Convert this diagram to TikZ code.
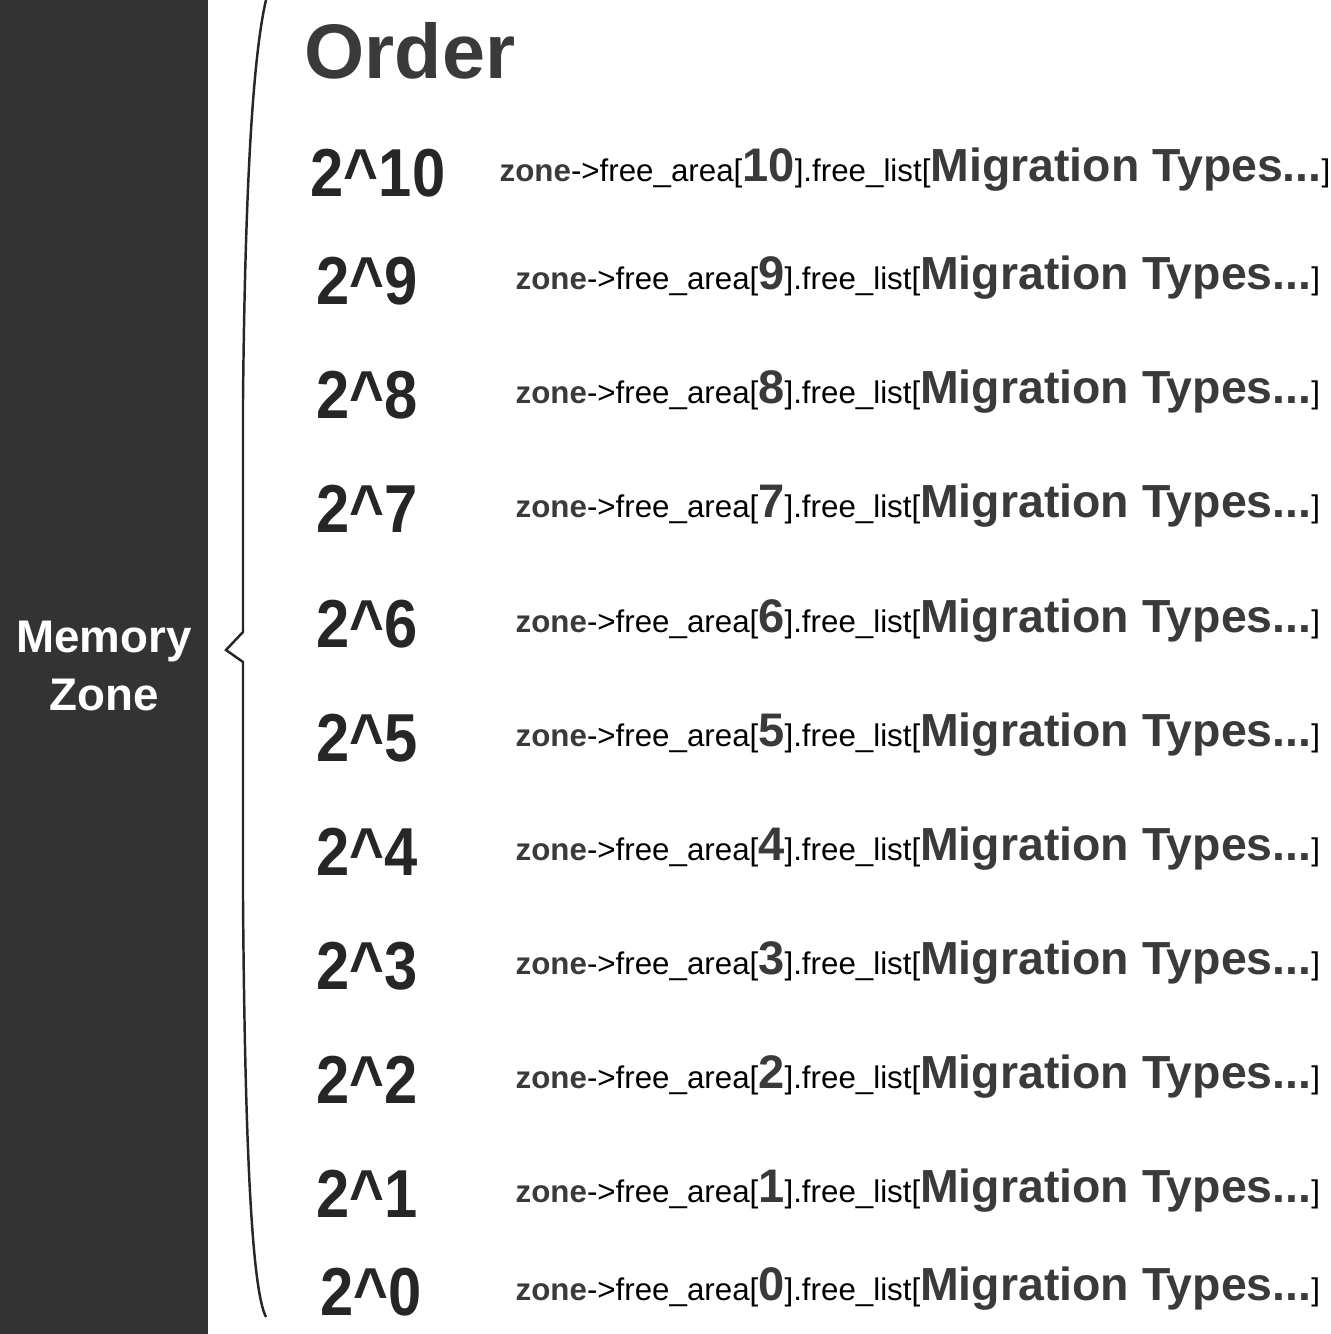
\documentclass[tikz,border=0pt]{standalone}
\usepackage{fontspec}
\setmainfont{Liberation Sans}
\definecolor{zonegray}{HTML}{333333}
\definecolor{textgray}{HTML}{3A3A3A}
\newcommand{\listfont}{\fontsize{8.9}{10}\selectfont}
\newcommand{\freelist}[1]{{\listfont\textbf{\color{textgray}zone}->free\_area[}{\fontsize{13.4}{15}\selectfont\textbf{\color{textgray}#1}}{\listfont].free\_list[}{\fontsize{13.2}{15}\selectfont\textbf{\color{textgray}Migration Types...}}{\listfont]}}

\begin{document}
\begin{tikzpicture}[x=0.01cm,y=-0.01cm,
    orderlabel/.style={anchor=base west,inner sep=0pt,text=black!85,font=\fontsize{19.3}{21}\selectfont\bfseries},
    listlabel/.style={anchor=base west,inner sep=0pt}]
	\useasboundingbox (0,0) rectangle (1331,1334);
	% memory zone
	\fill[zonegray] (0,0) rectangle (208,1334);
	\node[align=center,text=white,font=\fontsize{13}{16.5}\selectfont\bfseries] (zone) at (104,666) {Memory\\Zone};
	% brace
	\draw[line width=0.7pt,color=black!85] (266,0) .. controls (252,60) and (245,200) .. (243,400) -- (243,632) -- (226,650) -- (243,662) -- (243,900) .. controls (245,1150) and (252,1290) .. (266,1317);
	% orders
	\node[anchor=base west,inner sep=0pt,text=textgray,font=\fontsize{22}{24}\selectfont\bfseries] (order) at (304,79) {Order};
	\foreach \n/\yb/\xo/\xt in {10/197/310/499, 9/305/316/515, 8/419/316/515, 7/533/316/515, 6/647/316/515, 5/761/316/515, 4/875/316/515, 3/989/316/515, 2/1103/316/515, 1/1217/316/515, 0/1315/320/515}
	{
		\node[orderlabel] (ord\n) at (\xo,\yb) {\scalebox{0.88}[1]{2\textasciicircum\n}};
		\node[listlabel] (fl\n) at (\xt,\yb-15) {\freelist{\n}};
	}
\end{tikzpicture}
\end{document}
